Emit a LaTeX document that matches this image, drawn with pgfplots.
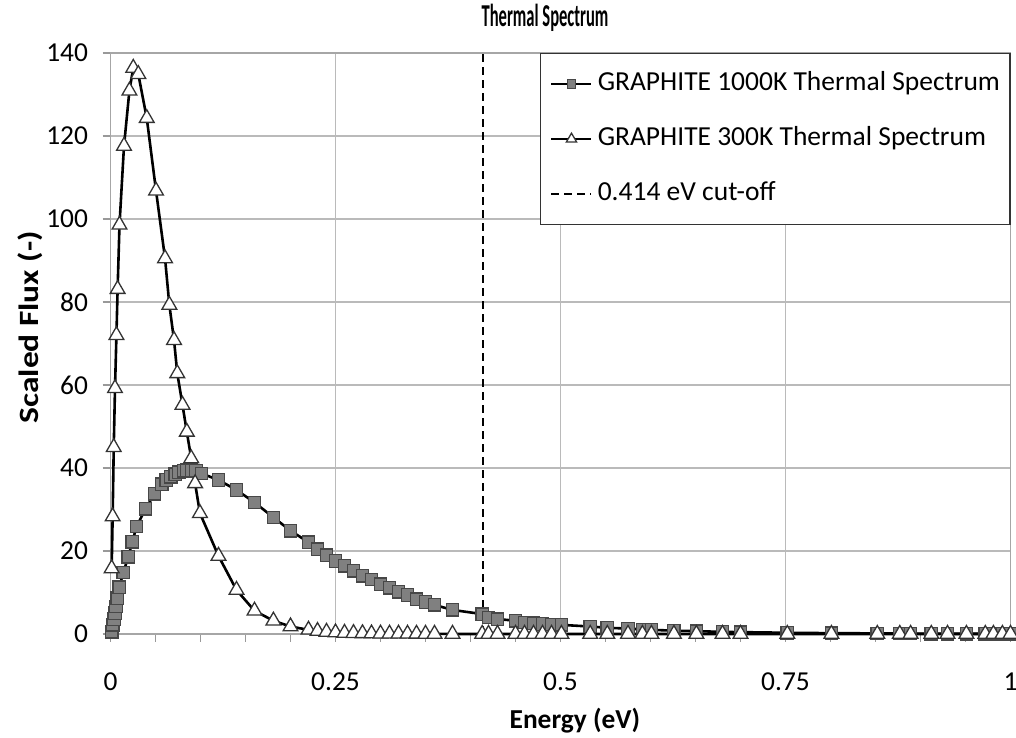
\documentclass[border=0pt]{standalone}
\usepackage{fontspec}
\setmainfont{Carlito}
\usepackage{graphicx}
\usepackage{pgfplots}
\pgfplotsset{compat=1.18}
\usepackage{pgfplotstable}

\pgfplotstableread{
E F
0.0013 0.55
0.0024 2.2
0.0039 3.6
0.0050 5.0
0.0061 6.6
0.0076 8.6
0.0098 11.3
0.0142 14.8
0.0198 18.6
0.0242 22.2
0.0290 25.9
0.0390 30.2
0.0490 33.8
0.0570 36.1
0.0620 37.1
0.0670 37.9
0.0720 38.5
0.0760 39.0
0.0810 39.3
0.0850 39.5
0.0900 39.5
0.0950 39.3
0.1010 38.7
0.1200 37.1
0.1400 34.7
0.1600 31.7
0.1810 28.1
0.2000 24.9
0.2200 22.1
0.2300 20.4
0.2400 19.0
0.2500 17.6
0.2600 16.4
0.2700 15.2
0.2800 14.0
0.2900 13.1
0.3000 12.0
0.3100 11.1
0.3200 10.2
0.3300 9.4
0.3400 8.4
0.3500 7.7
0.3600 7.0
0.3800 5.8
0.4130 4.8
0.4200 4.0
0.4300 3.6
0.4500 3.2
0.4600 2.8
0.4700 2.6
0.4800 2.4
0.4900 2.3
0.5010 2.2
0.5330 1.8
0.5520 1.5
0.5750 1.3
0.5910 1.1
0.6010 1.0
0.6260 0.8
0.6510 0.7
0.6800 0.5
0.7000 0.45
0.7520 0.3
0.8010 0.2
0.8520 0.15
0.8770 0.12
0.8890 0.1
0.9120 0.08
0.9300 0.07
0.9510 0.06
0.9720 0.05
0.9810 0.04
0.9910 0.04
1.0000 0.04
}\hotdata

\pgfplotstableread{
E F
0.0013 15.8
0.0024 28.3
0.0036 45.0
0.0050 59.2
0.0066 72.0
0.0079 83.1
0.0100 98.6
0.0150 117.6
0.0210 130.9
0.0253 136.4
0.0309 134.9
0.0403 124.3
0.0506 106.8
0.0606 90.5
0.0654 79.3
0.0706 70.8
0.0742 62.8
0.0800 55.2
0.0848 48.7
0.0897 42.3
0.0940 36.3
0.0994 29.1
0.1200 18.8
0.1400 10.6
0.1600 5.6
0.1810 3.2
0.2000 1.8
0.2200 1.0
0.2300 0.7
0.2400 0.5
0.2500 0.35
0.2600 0.25
0.2700 0.2
0.2800 0.15
0.2900 0.1
0.3000 0.08
0.3100 0.06
0.3200 0.05
0.3300 0.04
0.3400 0.03
0.3500 0.02
0.3600 0.02
0.3800 0.01
0.4130 0.01
0.4200 0
0.4300 0
0.4500 0
0.4600 0
0.4700 0
0.4800 0
0.4900 0
0.5010 0
0.5330 0
0.5520 0
0.5750 0
0.5910 0
0.6010 0
0.6260 0
0.6510 0
0.6800 0
0.7000 0
0.7520 0
0.8010 0
0.8520 0
0.8770 0
0.8890 0
0.9120 0
0.9300 0
0.9510 0
0.9720 0
0.9810 0
0.9910 0
1.0000 0
}\colddata

\begin{document}
\begin{tikzpicture}
\path[use as bounding box] (0,0) rectangle (1016bp,738bp);
\begin{axis}[
  at={(110.5bp,104bp)}, anchor=south west,
  scale only axis, width=900bp, height=581bp,
  xmin=0, xmax=1, ymin=0, ymax=140,
  xtick={0,0.25,0.5,0.75,1}, xticklabels={0,0.25,0.5,0.75,1},
  ytick={0,20,40,60,80,100,120,140},
  minor xtick={0,0.05,0.1,0.15,0.2,0.3,0.35,0.4,0.45,0.55,0.6,0.65,0.7,0.8,0.85,0.9,0.95},
  grid=major,
  major grid style={draw=black!27, line width=1.6bp},
  axis line style={draw=black!35, line width=1.6bp},
  tick style={draw=black!40, line width=1.3bp},
  major tick length=8bp, minor tick length=8bp,
  tick align=outside,
  xtick pos=bottom, ytick pos=left,
  /pgf/number format/assume math mode=true,
  ticklabel style={font=\fontsize{27.5}{32}\selectfont, text=black},
  xticklabel style={yshift=-27bp},
  yticklabel style={xshift=-11bp},
  legend style={at={(1,1)}, anchor=north east, draw=black!80, line width=1.2bp,
    fill=white, font=\fontsize{27.6}{32}\selectfont,
    inner xsep=10bp, inner ysep=18bp, row sep=30bp,
    nodes={inner sep=0bp, text height=19bp, text depth=6bp},
    /tikz/every odd column/.style={column sep=5bp}},
  legend cell align=left,
  legend image code/.code={\draw[mark repeat=2, mark phase=2, #1, every mark/.append style={scale=0.7}]
    plot coordinates {(0bp,0bp) (20bp,0bp) (40bp,0bp)};},
  clip=false,
]
\addplot[black, line width=2.6bp, mark=square*, mark size=6.2bp,
  mark options={solid, fill=black!50, draw=black!72, line width=1.3bp}]
  table[x=E, y=F] {\hotdata};
\addlegendentry{GRAPHITE 1000K Thermal Spectrum}
\addplot[black, line width=2.6bp, mark=triangle*, mark size=8.5bp,
  mark options={solid, fill=white, draw=black!80, line width=1.3bp}]
  table[x=E, y=F] {\colddata};
\addlegendentry{GRAPHITE 300K Thermal Spectrum}
\addplot[black, line width=2.4bp, dash pattern=on 8bp off 5bp]
  coordinates {(0.414,0) (0.414,140)};
\addlegendentry{0.414 eV cut-off}

\node[anchor=base, font=\bfseries\fontsize{32}{36}\selectfont]
  at (axis description cs:0.4828,1.0448) {\scalebox{0.52}[1]{Thermal Spectrum}};
\node[anchor=base, font=\bfseries\fontsize{27.5}{32}\selectfont]
  at (axis description cs:0.516,-0.1620) {Energy (eV)};
\node[anchor=base, rotate=90, font=\bfseries\fontsize{28}{32}\selectfont]
  at (axis description cs:-0.0800,0.528) {\scalebox{1.2}[1]{Scaled Flux (-)}};
\end{axis}
\end{tikzpicture}
\end{document}
